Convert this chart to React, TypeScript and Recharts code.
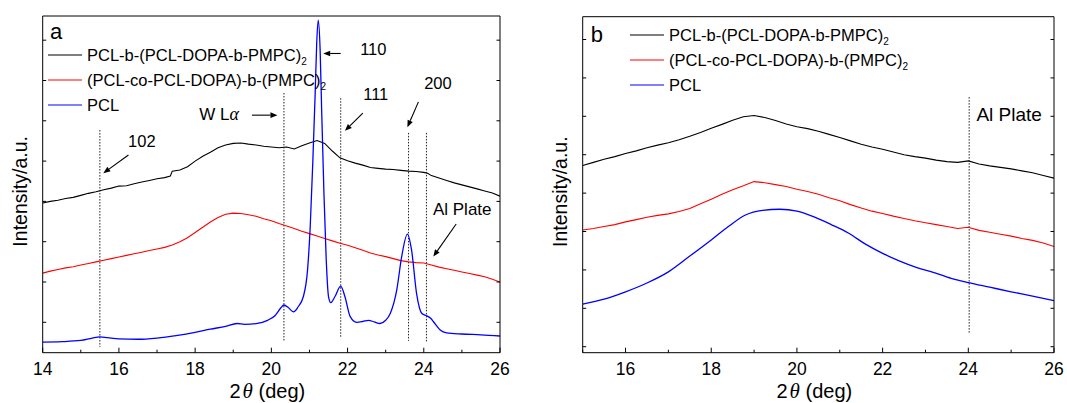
import { LineChart, Line, XAxis, YAxis, ReferenceLine, ReferenceDot, Legend, Label } from 'recharts';

const FONT = '"Liberation Sans", Arial, Helvetica, sans-serif';
const SERIF = '"Liberation Serif", "Times New Roman", serif';

// legend names ("_2" = subscript 2) and colours, shared by both panels
const SERIES_NAMES = ['PCL-b-(PCL-DOPA-b-PMPC)_2', '(PCL-co-PCL-DOPA)-b-(PMPC)_2', 'PCL'];
const SERIES_COLORS = ['#000000', '#ff0000', '#0000ff'];

// ---- panel a : 2theta 14..26 ----
const A_X_TICKS = [14, 15, 16, 17, 18, 19, 20, 21, 22, 23, 24, 25, 26];
const A_Y_TICKS = [0, 1, 2, 3, 4, 5, 6, 7];

const aBlack: [number, number][] = [
  [14.0, 2.96], [14.2, 3.0], [14.4, 3.03], [14.6, 3.07], [14.8, 3.1], [15.0, 3.15], [15.2, 3.2],
  [15.4, 3.24], [15.6, 3.29], [15.8, 3.33], [16.0, 3.38], [16.2, 3.39], [16.4, 3.44], [16.6, 3.48],
  [16.8, 3.52], [17.0, 3.56], [17.2, 3.59], [17.35, 3.63], [17.4, 3.75], [17.6, 3.78], [17.8, 3.86],
  [18.0, 4.0], [18.2, 4.12], [18.4, 4.22], [18.6, 4.33], [18.8, 4.4], [19.0, 4.44], [19.2, 4.45],
  [19.4, 4.42], [19.6, 4.4], [19.8, 4.37], [20.0, 4.35], [20.2, 4.33], [20.4, 4.35], [20.6, 4.3],
  [20.8, 4.38], [21.0, 4.45], [21.2, 4.51], [21.4, 4.44], [21.6, 4.25], [21.8, 4.08], [22.0, 4.01],
  [22.2, 3.95], [22.4, 3.9], [22.6, 3.84], [22.8, 3.82], [23.0, 3.8], [23.2, 3.79], [23.4, 3.77],
  [23.6, 3.75], [23.8, 3.74], [24.0, 3.72], [24.1, 3.7], [24.2, 3.64], [24.4, 3.58], [24.6, 3.52],
  [24.8, 3.46], [25.0, 3.41], [25.2, 3.36], [25.4, 3.31], [25.6, 3.26], [25.8, 3.21], [26.0, 3.13],
];

const aRed: [number, number][] = [
  [14.0, 1.22], [14.2, 1.27], [14.4, 1.31], [14.6, 1.35], [14.8, 1.38], [15.0, 1.42], [15.2, 1.46],
  [15.4, 1.5], [15.6, 1.54], [15.8, 1.58], [16.0, 1.62], [16.2, 1.66], [16.4, 1.7], [16.6, 1.74],
  [16.8, 1.78], [17.0, 1.82], [17.2, 1.86], [17.4, 1.92], [17.6, 2.0], [17.8, 2.1], [18.0, 2.23],
  [18.2, 2.36], [18.4, 2.49], [18.6, 2.6], [18.8, 2.68], [19.0, 2.71], [19.2, 2.7], [19.4, 2.67],
  [19.6, 2.63], [19.8, 2.57], [20.0, 2.52], [20.2, 2.45], [20.4, 2.39], [20.6, 2.33], [20.8, 2.26],
  [21.0, 2.2], [21.2, 2.14], [21.4, 2.08], [21.6, 2.02], [21.8, 1.96], [22.0, 1.91], [22.2, 1.85],
  [22.4, 1.79], [22.6, 1.72], [22.8, 1.67], [23.0, 1.63], [23.2, 1.58], [23.4, 1.53], [23.6, 1.5],
  [23.8, 1.48], [24.0, 1.47], [24.2, 1.42], [24.4, 1.37], [24.6, 1.33], [24.8, 1.29], [25.0, 1.25],
  [25.2, 1.21], [25.4, 1.17], [25.6, 1.13], [25.8, 1.07], [26.0, 1.0],
];

const aBlue: [number, number][] = [
  [14.0, -0.49], [14.5, -0.48], [15.0, -0.45], [15.3, -0.39], [15.5, -0.36], [15.7, -0.38],
  [16.0, -0.41], [16.5, -0.42], [17.0, -0.39], [17.5, -0.33], [18.0, -0.25], [18.4, -0.17],
  [18.8, -0.1], [19.1, -0.03], [19.3, -0.05], [19.6, -0.03], [19.9, 0.05], [20.1, 0.17],
  [20.25, 0.36], [20.33, 0.43], [20.45, 0.36], [20.58, 0.26], [20.7, 0.38], [20.84, 0.64],
  [20.95, 1.3], [21.02, 2.37], [21.09, 4.03], [21.15, 5.68], [21.19, 6.92], [21.23, 7.5],
  [21.28, 6.76], [21.32, 5.27], [21.38, 3.2], [21.44, 1.55], [21.5, 0.64], [21.56, 0.49],
  [21.67, 0.64], [21.82, 0.9], [21.93, 0.64], [22.07, 0.14], [22.24, 0.0], [22.4, 0.02],
  [22.55, 0.05], [22.7, 0.01], [22.85, -0.03], [23.0, 0.05], [23.12, 0.22], [23.29, 0.8],
  [23.42, 1.63], [23.57, 2.19], [23.68, 1.79], [23.81, 0.72], [23.95, 0.22], [24.08, 0.16],
  [24.18, 0.1], [24.25, 0.02], [24.43, -0.19], [24.6, -0.26], [25.0, -0.29], [25.5, -0.31],
  [26.0, -0.34],
];

// dotted guide lines: x, from, to
const aGuides: [number, number, number][] = [
  [15.5, 4.77, -0.61], [20.33, 5.69, -0.46], [21.82, 5.56, -0.36], [23.6, 4.7, -0.46], [24.07, 4.7, -0.49],
];
// arrows: tail x, tail y, tip x, tip y
const aArrows: [number, number, number, number][] = [
  [16.25, 4.15, 15.59, 3.7],
  [19.49, 5.14, 20.16, 5.14],
  [21.82, 6.67, 21.36, 6.67],
  [22.4, 5.19, 21.93, 4.75],
  [23.86, 5.47, 23.57, 4.84],
  [24.85, 2.44, 24.25, 1.63],
];
// text: x (start), y (baseline), text, italic greek suffix, size
const aTexts: [number, number, string, string, number][] = [
  [14.19, 7.03, 'a', '', 22],
  [16.24, 4.36, '102', '', 16.5],
  [18.11, 5.02, 'W L', 'α', 17],
  [22.33, 6.63, '110', '', 16.5],
  [22.41, 5.52, '111', '', 16.5],
  [24.01, 5.79, '200', '', 16.5],
  [24.24, 2.66, 'Al Plate', '', 17],
];

// ---- panel b : 2theta 15..26 ----
const B_X_TICKS = [15, 16, 17, 18, 19, 20, 21, 22, 23, 24, 25, 26];
const B_Y_TICKS = [0, 1, 2, 3, 4, 5, 6, 7, 8];

const bBlack: [number, number][] = [
  [15.0, 4.72], [15.25, 4.8], [15.5, 4.88], [15.75, 4.95], [16.0, 5.03], [16.25, 5.1], [16.5, 5.18],
  [16.75, 5.25], [17.0, 5.31], [17.25, 5.39], [17.5, 5.48], [17.75, 5.58], [18.0, 5.69], [18.25, 5.79],
  [18.5, 5.9], [18.75, 5.99], [19.0, 6.02], [19.25, 5.97], [19.5, 5.89], [19.75, 5.8], [20.0, 5.73],
  [20.25, 5.68], [20.5, 5.61], [20.75, 5.53], [21.0, 5.45], [21.25, 5.36], [21.5, 5.27], [21.75, 5.2],
  [22.0, 5.14], [22.25, 5.07], [22.5, 5.0], [22.75, 4.95], [23.0, 4.91], [23.25, 4.86], [23.5, 4.82],
  [23.75, 4.8], [24.0, 4.84], [24.25, 4.76], [24.5, 4.71], [24.75, 4.67], [25.0, 4.63], [25.25, 4.58],
  [25.5, 4.53], [25.75, 4.46], [26.0, 4.39],
];

const bRed: [number, number][] = [
  [15.0, 3.04], [15.25, 3.08], [15.5, 3.13], [15.75, 3.18], [16.0, 3.25], [16.25, 3.31], [16.5, 3.37],
  [16.75, 3.42], [17.0, 3.46], [17.25, 3.52], [17.5, 3.6], [17.75, 3.72], [18.0, 3.84], [18.25, 3.97],
  [18.5, 4.09], [18.75, 4.19], [19.0, 4.3], [19.25, 4.27], [19.5, 4.22], [19.75, 4.17], [20.0, 4.1],
  [20.25, 4.04], [20.5, 3.97], [20.75, 3.88], [21.0, 3.8], [21.25, 3.7], [21.5, 3.61], [21.75, 3.53],
  [22.0, 3.47], [22.25, 3.4], [22.5, 3.34], [22.75, 3.28], [23.0, 3.23], [23.25, 3.18], [23.5, 3.13],
  [23.75, 3.08], [24.0, 3.11], [24.25, 3.03], [24.5, 2.98], [24.75, 2.93], [25.0, 2.88], [25.25, 2.82],
  [25.5, 2.77], [25.75, 2.7], [26.0, 2.61],
];

const bBlue: [number, number][] = [
  [15.0, 1.11], [15.5, 1.24], [16.0, 1.43], [16.5, 1.66], [17.0, 1.95], [17.5, 2.36], [18.0, 2.78],
  [18.4, 3.13], [18.8, 3.43], [19.2, 3.55], [19.6, 3.58], [20.0, 3.53], [20.4, 3.38], [20.8, 3.18],
  [21.2, 2.96], [21.6, 2.67], [22.0, 2.43], [22.4, 2.23], [22.8, 2.06], [23.2, 1.93], [23.6, 1.78],
  [24.0, 1.67], [24.5, 1.55], [25.0, 1.43], [25.5, 1.32], [26.0, 1.2],
];

const bGuides: [number, number, number][] = [[24.02, 6.5, 0.36]];
const bArrows: [number, number, number, number][] = [];
const bTexts: [number, number, string, string, number][] = [
  [15.19, 7.94, 'b', '', 22],
  [24.19, 5.89, 'Al Plate', '', 19],
];

const toPts = (arr: [number, number][]) => arr.map(([x, y]) => ({ x, y }));

const renderName = (name: string) => {
  const [base, sub] = name.split('_');
  return (
    <>
      {base}
      {sub && <sub style={{ fontSize: 10, lineHeight: 0, verticalAlign: -4 }}>{sub}</sub>}
    </>
  );
};

const renderLegend = (props: any) => {
  const items = [...(props.payload || [])].sort(
    (p: any, q: any) => SERIES_NAMES.indexOf(p.value) - SERIES_NAMES.indexOf(q.value)
  );
  return (
    <div style={{ fontFamily: FONT, fontSize: 16.5, color: '#000' }}>
      {items.map((item: any) => (
        <div key={item.value} style={{ display: 'flex', alignItems: 'center', height: 25 }}>
          <svg width={34} height={4} style={{ marginRight: 5 }}>
            <line x1={0} y1={2} x2={34} y2={2} stroke={item.color} strokeWidth={1.2} />
          </svg>
          <span style={{ whiteSpace: 'nowrap' }}>{renderName(item.value)}</span>
        </div>
      ))}
    </div>
  );
};

const bottomTick = (props: any) => {
  const { x, y, payload } = props;
  const major = payload.value % 2 === 0;
  return (
    <g>
      <line x1={x} y1={y} x2={x} y2={y - (major ? 5 : 3)} stroke="#000" />
      {major && (
        <text x={x} y={y + 22.5} textAnchor="middle" fontSize={17.5} fontFamily={FONT} fill="#000">
          {payload.value}
        </text>
      )}
    </g>
  );
};

const topTick = (props: any) => {
  const { x, y, payload } = props;
  const major = payload.value % 2 === 0;
  return <line x1={x} y1={y} x2={x} y2={y + (major ? 5 : 3)} stroke="#000" />;
};

const leftTick = (props: any) => <line x1={props.x} y1={props.y} x2={props.x + 3.5} y2={props.y} stroke="#000" />;
const rightTick = (props: any) => <line x1={props.x} y1={props.y} x2={props.x - 3.5} y2={props.y} stroke="#000" />;

const xTitle = (props: any) => {
  const vb = props.viewBox;
  return (
    <text x={vb.x + vb.width / 2 - 4} y={vb.y + 45} textAnchor="middle" fontSize={20} fontFamily={FONT} fill="#000">
      <tspan>2</tspan>
      <tspan dx={2} fontFamily={SERIF} fontStyle="italic" fontSize={21}>θ</tspan>
      <tspan> (deg)</tspan>
    </text>
  );
};

const yTitle = (props: any) => {
  const vb = props.viewBox;
  const x = vb.x + vb.width - 16;
  const y = vb.y + vb.height / 2 + 7;
  return (
    <text x={x} y={y} transform={`rotate(-90, ${x}, ${y})`} textAnchor="middle" fontSize={19.5} fontFamily={FONT} fill="#000">
      Intensity/a.u.
    </text>
  );
};

const arrowShape = (p: any) => {
  const { x1, y1, x2, y2 } = p;
  const ang = Math.atan2(y2 - y1, x2 - x1);
  const len = 7;
  const half = 2.8;
  const bx = x2 - len * Math.cos(ang);
  const by = y2 - len * Math.sin(ang);
  const px = -Math.sin(ang) * half;
  const py = Math.cos(ang) * half;
  return (
    <g>
      <line x1={x1} y1={y1} x2={bx} y2={by} stroke="#000" strokeWidth={1.1} />
      <polygon points={`${x2},${y2} ${bx + px},${by + py} ${bx - px},${by - py}`} fill="#000" />
    </g>
  );
};

interface PanelProps {
  width: number;
  margin: { top: number; right: number; bottom: number; left: number };
  xDomain: [number, number];
  xTicks: number[];
  yDomain: [number, number];
  yTicks: number[];
  series: [number, number][][];
  guides: [number, number, number][];
  arrows: [number, number, number, number][];
  texts: [number, number, string, string, number][];
  legendPos: { left: number; top: number };
}

// axes are 1px thick boxes (a 0-sized axis is not drawn), margins shrink by that 1px
const Panel = ({ width, margin, xDomain, xTicks, yDomain, yTicks, series, guides, arrows, texts, legendPos }: PanelProps) => (
  <LineChart
    width={width}
    height={403}
    margin={{
      top: margin.top - 1,
      right: margin.right - 1,
      bottom: margin.bottom - 1,
      left: margin.left - 1,
    }}
  >
    <XAxis
      type="number"
      dataKey="x"
      domain={xDomain}
      ticks={xTicks}
      interval={0}
      allowDataOverflow
      height={1}
      tickSize={0}
      tickMargin={0}
      tickLine={false}
      tick={bottomTick}
      axisLine={{ stroke: '#000' }}
    >
      <Label content={xTitle} />
    </XAxis>
    <XAxis
      xAxisId="top"
      orientation="top"
      type="number"
      domain={xDomain}
      ticks={xTicks}
      interval={0}
      allowDataOverflow
      height={1}
      tickSize={0}
      tickMargin={0}
      tickLine={false}
      tick={topTick}
      axisLine={{ stroke: '#000' }}
    />
    <YAxis
      type="number"
      domain={yDomain}
      ticks={yTicks}
      interval={0}
      allowDataOverflow
      width={1}
      tickSize={0}
      tickMargin={0}
      tickLine={false}
      tick={leftTick}
      axisLine={{ stroke: '#000' }}
    >
      <Label content={yTitle} />
    </YAxis>
    <YAxis
      yAxisId="right"
      orientation="right"
      type="number"
      domain={yDomain}
      ticks={yTicks}
      interval={0}
      allowDataOverflow
      width={1}
      tickSize={0}
      tickMargin={0}
      tickLine={false}
      tick={rightTick}
      axisLine={{ stroke: '#000' }}
    />
    {guides.map(([x, y1, y2], i) => (
      <ReferenceLine
        key={`g${i}`}
        segment={[{ x, y: y1 }, { x, y: y2 }]}
        stroke="#222"
        strokeWidth={1}
        strokeDasharray="1.5 1.5"
      />
    ))}
    {series.map((s, i) => (
      <Line
        key={SERIES_NAMES[i]}
        data={toPts(s)}
        dataKey="y"
        name={SERIES_NAMES[i]}
        type={i === 2 ? 'monotone' : 'linear'}
        stroke={SERIES_COLORS[i]}
        strokeWidth={i === 2 ? 1.3 : 1.1}
        dot={false}
        activeDot={false}
        isAnimationActive={false}
      />
    ))}
    {arrows.map(([tx, ty, hx, hy], i) => (
      <ReferenceLine key={`a${i}`} segment={[{ x: tx, y: ty }, { x: hx, y: hy }]} shape={arrowShape} />
    ))}
    {texts.map(([x, y, t, greek, size], i) => (
      <ReferenceDot
        key={`t${i}`}
        x={x}
        y={y}
        r={0}
        shape={(p: any) => (
          <text x={p.cx} y={p.cy} fontSize={size} fontFamily={FONT} fill="#000">
            {t}
            {greek && (
              <tspan fontFamily={SERIF} fontStyle="italic" fontSize={size + 1}>
                {greek}
              </tspan>
            )}
          </text>
        )}
      />
    ))}
    <Legend
      layout="vertical"
      align="center"
      verticalAlign="middle"
      content={renderLegend}
      wrapperStyle={{ left: legendPos.left, top: legendPos.top, width: 'auto', height: 'auto' }}
    />
  </LineChart>
);

export default function App() {
  return (
    <div style={{ position: 'absolute', left: 0, top: 0, width: 1067, height: 403, background: '#fff' }}>
      <div style={{ position: 'absolute', left: 0, top: 0 }}>
        <Panel
          width={520}
          margin={{ top: 16, right: 20, bottom: 50.3, left: 42.7 }}
          xDomain={[14, 26]}
          xTicks={A_X_TICKS}
          yDomain={[-0.754, 7.6]}
          yTicks={A_Y_TICKS}
          series={[aBlack, aRed, aBlue]}
          guides={aGuides}
          arrows={aArrows}
          texts={aTexts}
          legendPos={{ left: 48, top: 42.5 }}
        />
      </div>
      <div style={{ position: 'absolute', left: 540, top: 0 }}>
        <Panel
          width={527}
          margin={{ top: 16.7, right: 13, bottom: 50.3, left: 42.7 }}
          xDomain={[15, 26]}
          xTicks={B_X_TICKS}
          yDomain={[-0.156, 8.594]}
          yTicks={B_Y_TICKS}
          series={[bBlack, bRed, bBlue]}
          guides={bGuides}
          arrows={bArrows}
          texts={bTexts}
          legendPos={{ left: 90, top: 22.5 }}
        />
      </div>
    </div>
  );
}
